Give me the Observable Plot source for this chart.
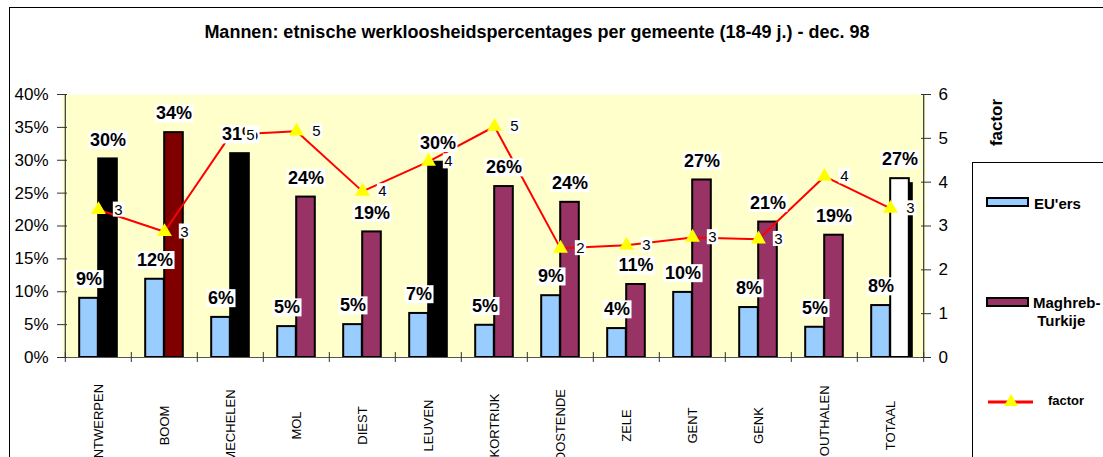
<!DOCTYPE html>
<html>
<head>
<meta charset="utf-8">
<script src="https://cdn.jsdelivr.net/npm/d3@7"></script>
<script src="https://cdn.jsdelivr.net/npm/@observablehq/plot@0.6"></script>
<style>
  html, body { margin: 0; padding: 0; background: #fff; }
  #wrap { position: relative; width: 1103px; height: 457px; overflow: hidden; background: #fff;
          font-family: "Liberation Sans", Arial, sans-serif; }
  #outer { position: absolute; left: 9px; top: 7px; width: 2000px; height: 2000px; border: 1px solid #000; }
  #title { position: absolute; left: 0; top: 22px; width: 1074px; text-align: center;
           font-weight: bold; font-size: 18px; line-height: 20px; color: #000; }
  #chart { position: absolute; left: 0; top: 0; }
  #legend { position: absolute; left: 972px; top: 162px; width: 400px; height: 600px;
            border: 1px solid #000; background: #fff; }
  .sw { position: absolute; box-sizing: border-box; width: 43px; height: 10px; border: 2px solid #000; }
  .lt { position: absolute; font-weight: bold; font-size: 15px; line-height: 18px; color: #000; white-space: nowrap; }
</style>
</head>
<body>
<div id="wrap">
  <div id="outer"></div>
  <div id="chart"></div>
  <div id="title">Mannen: etnische werkloosheidspercentages per gemeente (18-49 j.) - dec. 98</div>
  <div id="legend">
    <div class="sw" style="left:13px; top:34px; background:#99CCFF;"></div>
    <div class="lt" style="left:61px; top:32px;">EU'ers</div>
    <div class="sw" style="left:13px; top:134px; background:#993366;"></div>
    <div class="lt" style="left:60px; top:131px;">Maghreb-<br>&nbsp;Turkije</div>
    <svg style="position:absolute; left:14px; top:228px;" width="50" height="20">
      <line x1="1" y1="11" x2="46" y2="11" stroke="#FF0000" stroke-width="3"></line>
      <path d="M24,3 L31,15 L17,15 Z" fill="#FFFF00"></path>
    </svg>
    <div class="lt" style="left:75px; top:229px; font-size:13px;">factor</div>
  </div>
</div>
<script>
// ---- data ----
const cities = ["ANTWERPEN","BOOM","MECHELEN","MOL","DIEST","LEUVEN","KORTRIJK","OOSTENDE","ZELE","GENT","GENK","HOUTHALEN","TOTAAL"];
const euers   = [9.0, 11.9, 6.1, 4.7, 5.0, 6.7, 4.9, 9.4, 4.4, 9.9, 7.6, 4.6, 7.9];
const maghreb = [30.2, 34.2, 31.0, 24.4, 19.1, 29.7, 26.0, 23.6, 11.1, 27.0, 20.6, 18.6, 27.2];
const factor  = [3.37, 2.87, 5.08, 5.16, 3.79, 4.47, 5.27, 2.49, 2.56, 2.74, 2.70, 4.13, 3.40];
const pctTicks = [0, 5, 10, 15, 20, 25, 30, 35, 40];
const factorTicks = [0, 1, 2, 3, 4, 5, 6];

// ---- styles ----
const maghrebColor = {ANTWERPEN: "#000000", BOOM: "#800000", MECHELEN: "#000000", LEUVEN: "#000000", TOTAAL: "#FFFFFF"};
const defaultMaghreb = "#993366";
const W = 1103, H = 457, mL = 62, mR = 178, mT = 94, mB = 100;
const bw = (W - mL - mR) / cities.length;
const yMax = 40, fMax = 6;
const toY = f => f * yMax / fMax;

const rows = cities.map((c, i) => ({city: c, eu: euers[i], mg: maghreb[i], f: factor[i]}));
const last = cities[cities.length - 1];
const tickHalf = 5 * yMax / (H - mT - mB);

const plot = Plot.plot({
  width: W, height: H,
  marginLeft: mL, marginRight: mR, marginTop: mT, marginBottom: mB,
  x: {domain: cities, padding: 0, axis: null},
  y: {domain: [0, yMax]},
  color: {type: "identity"},
  style: {fontFamily: "'Liberation Sans', Arial, sans-serif", fontSize: "13px", background: "transparent", overflow: "visible", color: "#000"},
  marks: [
    Plot.frame({fill: "#FFFFCC", stroke: "none"}),
    // EU'ers bars
    Plot.barY(rows, {x: "city", y: "eu", fill: "#99CCFF", stroke: "#000", strokeWidth: 2,
      insetLeft: bw / 2 - 19, insetRight: bw / 2}),
    // shadow of TOTAAL bar
    Plot.barY(rows.filter(d => d.city === last), {x: "city", y1: tickHalf * 0.8, y2: "mg", fill: "#000",
      insetLeft: bw / 2, insetRight: bw / 2 - 19, dx: 4, dy: 4}),
    // Maghreb-Turkije bars
    Plot.barY(rows, {x: "city", y: "mg", fill: d => maghrebColor[d.city] || defaultMaghreb, stroke: "#000", strokeWidth: 2,
      insetLeft: bw / 2, insetRight: bw / 2 - 19}),
    // axis lines
    Plot.ruleY([0], {stroke: "#555", strokeWidth: 1.2}),
    Plot.ruleX([cities[0]], {dx: -bw / 2, y1: 0, y2: yMax, stroke: "#333", strokeWidth: 1.2}),
    Plot.ruleX([last], {dx: bw / 2, y1: 0, y2: yMax, stroke: "#333", strokeWidth: 1.2}),
    Plot.ruleX(cities, {dx: -bw / 2, y1: -tickHalf, y2: tickHalf, stroke: "#333"}),
    Plot.ruleX([last], {dx: bw / 2, y1: -tickHalf, y2: tickHalf, stroke: "#333"}),
    // left axis
    Plot.axisY({anchor: "left", ticks: pctTicks, tickFormat: d => d + "%", tickSize: 5, tickPadding: 9, fontSize: 17, label: null, stroke: "#333"}),
    Plot.axisY({anchor: "left", ticks: pctTicks, tickFormat: () => "", tickSize: 5, dx: 5, label: null, stroke: "#333"}),
    // right axis (factor)
    Plot.axisY({anchor: "right", ticks: factorTicks.map(toY), tickFormat: d => String(Math.round(d * fMax / yMax)), tickSize: 5, tickPadding: 8, fontSize: 17, label: null, stroke: "#333"}),
    Plot.axisY({anchor: "right", ticks: factorTicks.map(toY), tickFormat: () => "", tickSize: 5, dx: -5, label: null, stroke: "#333"}),
    Plot.text(["factor"], {frameAnchor: "top-right", textAnchor: "middle", lineAnchor: "middle", dx: 71, dy: 28, rotate: -90, fontSize: 17, fontWeight: "bold"}),
    // x labels
    Plot.text(cities, {x: d => d, frameAnchor: "bottom", textAnchor: "middle", lineAnchor: "middle", dy: 68, rotate: -90, fontSize: 13}),
    // factor line
    Plot.line(rows, {x: "city", y: d => toY(d.f), stroke: "#FF0000", strokeWidth: 2}),
    Plot.dot(rows, {x: "city", y: d => toY(d.f), symbol: "triangle", r: 5.5, fill: "#FFFF00", stroke: "none"}),
    // percentage labels
    Plot.text(rows, {x: "city", y: "eu", text: d => Math.round(d.eu) + "%", dx: -9.5, dy: -19, fontSize: 18, fontWeight: "bold", ariaDescription: "boxed"}),
    Plot.text(rows, {x: "city", y: "mg", text: d => Math.round(d.mg) + "%", dx: 9.5, dy: -19, fontSize: 18, fontWeight: "bold", ariaDescription: "boxed"}),
    // factor labels
    Plot.text(rows, {x: "city", y: d => toY(d.f), text: d => String(Math.round(d.f)), dx: 20, fontSize: 15, ariaDescription: "boxed"})
  ]
});
document.getElementById("chart").appendChild(plot);

// white boxes behind labels
d3.select(plot).selectAll('g[aria-description="boxed"] text').each(function () {
  const b = this.getBBox();
  const padX = 1.5, padY = 0;
  const r = document.createElementNS("http://www.w3.org/2000/svg", "rect");
  r.setAttribute("x", b.x - padX);
  r.setAttribute("y", b.y + 1 - padY);
  r.setAttribute("width", b.width + 2 * padX);
  r.setAttribute("height", b.height - 2 + 2 * padY);
  r.setAttribute("fill", "#FFFFFF");
  r.setAttribute("stroke", "none");
  const t = this.getAttribute("transform");
  if (t) r.setAttribute("transform", t);
  this.parentNode.insertBefore(r, this);
});
</script>
</body>
</html>
